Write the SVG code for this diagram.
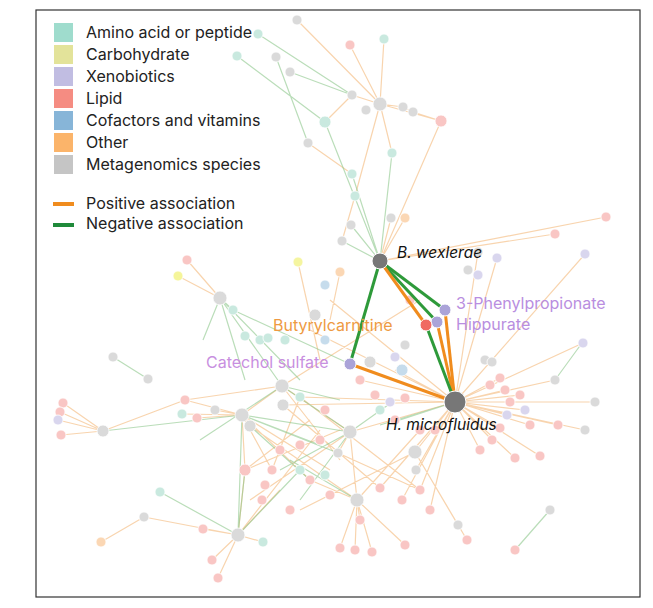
<svg xmlns="http://www.w3.org/2000/svg" width="653" height="608" viewBox="0 0 653 608">
<style>
text{font-family:"Inter","Liberation Sans",sans-serif}
.lg{font-size:16px;fill:#222}
.po{stroke:#f3b878;stroke-width:1.2;fill:none;opacity:.6}
.ng{stroke:#8cc78a;stroke-width:1.2;fill:none;opacity:.6}
.g circle{stroke:#fff;stroke-width:.8}
.gr{fill:#dadada}.pk{fill:#f9c6c4}.tl{fill:#c9e9df}.lv{fill:#d9d6ee}.or{fill:#fbd7b4}.bl{fill:#c6dcec}
</style>
<rect x="36" y="10" width="604" height="587" fill="#fff" stroke="#333" stroke-width="1.2"/>
<g id="connectors">
<path class="po" d="M380,104L297,20M380,104L350,45M380,104L384,39M380,104L352,95M380,104L403,107M403,107L413,112M413,112L441,121M380,104L441,121M380,104L392,153M352,95L325,122M380,104L355,196M352,174L308,143M355,196L342,241M380,261L405,218M380,261L391,218M441,121L380,261M380,261L606,217M380,261L555,234M455,402L478,252M455,402L497,258M455,402L585,254M298,262L320,360M340,272L330,320M220,298L187,260M220,298L178,276M455,402L555,380M455,402L583,343M455,402L595,402M455,402L558,425M455,402L585,430M455,402L540,456M455,402L515,458M455,402L500,378M455,402L505,390M455,402L510,402M455,402L507,415M455,402L500,428M455,402L492,440M455,402L480,450M455,402L520,395M455,402L525,410M455,402L530,425M455,402L350,432M455,402L415,452M455,402L416,470M455,402L300,397M455,402L283,405M455,402L380,488M455,402L420,490M455,402L402,500M455,402L430,510M455,402L360,380M455,402L395,370M242,415L185,400M242,415L182,414M242,415L197,418M242,415L215,410M242,415L282,386M242,415L245,470M242,415L272,470M242,415L310,480M242,415L250,426M103,431L63,403M103,431L60,412M103,431L58,420M103,431L61,435M103,431L185,400M350,432L338,453M350,432L357,500M357,500L340,548M357,500L355,550M357,500L372,552M357,500L405,545M357,500L360,520M238,535L203,529M238,535L212,560M238,535L218,578M238,535L263,542M238,535L245,470M415,452L458,525M415,452L467,540M282,386L350,432M282,386L340,460M310,480L357,500M245,470L340,430M272,470L300,397M250,426L357,500M283,405L380,488M300,397L420,490M185,400L282,386M338,453L420,490M245,470L310,420M350,432L250,500M238,535L320,430M144,517L238,535M101,542L144,517M238,535L280,490M455,402L330,300M455,402L310,330M282,386L420,300M242,415L330,470M357,500L420,430M415,452L300,510"/>
<path class="ng" d="M258,34L352,95M237,56L325,122M276,57L308,143M290,72L352,95M325,122L380,261M352,174L380,261M392,153L380,261M380,261L351,225M380,261L342,241M220,298L233,310M220,298L282,386M220,298L300,380M220,298L245,380M233,310L350,364M113,357L148,379M220,298L203,340M282,386L350,432M242,415L338,453M242,415L320,445M242,415L350,432M103,431L242,415M242,415L238,535M238,535L160,492M238,535L300,470M350,432L300,500M582,343L555,380M550,510L515,550M357,500L290,460M455,402L400,420M455,402L380,425M350,432L395,400M282,386L340,400M310,480L250,426M238,535L245,470M282,386L200,440M350,432L280,470"/>
</g>
<g id="bg-nodes" class="g">
<circle class="gr" cx="297" cy="20" r="5"/><circle class="pk" cx="350" cy="45" r="5"/><circle class="tl" cx="384" cy="39" r="5"/><circle class="tl" cx="258" cy="34" r="5"/><circle class="tl" cx="237" cy="56" r="5"/><circle class="gr" cx="276" cy="57" r="5"/><circle class="gr" cx="290" cy="72" r="5"/><circle class="gr" cx="352" cy="95" r="5"/><circle class="gr" cx="380" cy="104" r="7"/><circle class="gr" cx="366" cy="110" r="5"/><circle class="gr" cx="403" cy="107" r="5"/><circle class="gr" cx="413" cy="112" r="5"/><circle class="pk" cx="441" cy="121" r="6"/><circle class="tl" cx="325" cy="122" r="6"/><circle class="gr" cx="308" cy="143" r="5"/><circle class="tl" cx="392" cy="153" r="5"/><circle class="tl" cx="352" cy="174" r="5"/><circle class="tl" cx="355" cy="196" r="5"/><circle class="or" cx="405" cy="218" r="5"/><circle class="gr" cx="391" cy="218" r="5"/><circle class="gr" cx="351" cy="225" r="5"/><circle class="gr" cx="342" cy="241" r="5"/>
<circle class="pk" cx="606" cy="217" r="5"/><circle class="pk" cx="555" cy="234" r="5"/><circle class="lv" cx="585" cy="254" r="5"/><circle class="gr" cx="478" cy="252" r="5"/><circle class="lv" cx="497" cy="258" r="5"/>
<circle fill="#f5f59a" cx="178" cy="276" r="5"/><circle class="pk" cx="187" cy="260" r="5"/><circle class="gr" cx="220" cy="298" r="7"/><circle class="tl" cx="233" cy="310" r="5"/><circle fill="#f5f5a0" cx="298" cy="262" r="5"/><circle class="or" cx="340" cy="272" r="5"/><circle class="bl" cx="325" cy="285" r="5"/><circle class="gr" cx="113" cy="357" r="5"/><circle class="gr" cx="148" cy="379" r="5"/><circle class="gr" cx="103" cy="431" r="6"/><circle class="pk" cx="63" cy="403" r="5"/><circle class="pk" cx="60" cy="412" r="5"/><circle class="lv" cx="58" cy="420" r="5"/><circle class="pk" cx="61" cy="435" r="5"/><circle class="pk" cx="185" cy="400" r="5"/><circle class="tl" cx="182" cy="414" r="5"/><circle class="pk" cx="197" cy="418" r="5"/><circle class="gr" cx="215" cy="410" r="5"/>
<circle class="tl" cx="245" cy="336" r="5"/><circle class="tl" cx="260" cy="340" r="5"/><circle class="tl" cx="268" cy="338" r="5"/><circle class="tl" cx="285" cy="340" r="5"/><circle class="gr" cx="315" cy="315" r="6"/><circle class="bl" cx="325" cy="340" r="5"/><circle class="gr" cx="370" cy="362" r="6"/><circle class="bl" cx="402" cy="370" r="6"/><circle class="lv" cx="395" cy="357" r="5"/><circle class="gr" cx="405" cy="345" r="5"/><circle class="pk" cx="410" cy="300" r="5"/><circle class="gr" cx="468" cy="270" r="5"/><circle class="lv" cx="478" cy="275" r="5"/><circle class="gr" cx="485" cy="360" r="5"/><circle class="gr" cx="492" cy="362" r="5"/>
<circle class="gr" cx="282" cy="386" r="7"/><circle class="gr" cx="242" cy="415" r="7"/><circle class="gr" cx="250" cy="426" r="6"/><circle class="gr" cx="283" cy="405" r="6"/><circle class="tl" cx="300" cy="397" r="5"/><circle class="gr" cx="350" cy="432" r="7"/><circle class="gr" cx="338" cy="453" r="5"/><circle class="pk" cx="245" cy="470" r="6"/><circle class="pk" cx="272" cy="470" r="5"/><circle class="pk" cx="310" cy="480" r="5"/><circle class="gr" cx="357" cy="500" r="7"/><circle class="gr" cx="415" cy="452" r="7"/><circle class="gr" cx="416" cy="470" r="5"/><circle class="pk" cx="380" cy="488" r="5"/><circle class="pk" cx="420" cy="490" r="5"/><circle class="pk" cx="402" cy="500" r="5"/><circle class="pk" cx="430" cy="510" r="5"/><circle class="pk" cx="360" cy="380" r="5"/><circle class="pk" cx="375" cy="395" r="5"/><circle class="lv" cx="390" cy="402" r="5"/><circle class="tl" cx="380" cy="410" r="5"/><circle class="pk" cx="395" cy="420" r="5"/><circle class="pk" cx="405" cy="398" r="5"/><circle class="pk" cx="325" cy="410" r="5"/><circle class="pk" cx="320" cy="440" r="5"/><circle class="pk" cx="300" cy="445" r="5"/><circle class="tl" cx="325" cy="475" r="5"/><circle class="pk" cx="280" cy="450" r="5"/><circle class="pk" cx="262" cy="500" r="5"/><circle class="pk" cx="290" cy="510" r="5"/><circle class="pk" cx="435" cy="430" r="5"/><circle class="pk" cx="420" cy="430" r="5"/><circle class="pk" cx="265" cy="485" r="5"/><circle class="pk" cx="330" cy="495" r="5"/><circle class="tl" cx="300" cy="470" r="5"/>
<circle class="pk" cx="500" cy="378" r="5"/><circle class="pk" cx="505" cy="390" r="5"/><circle class="pk" cx="510" cy="402" r="5"/><circle class="lv" cx="507" cy="415" r="5"/><circle class="pk" cx="500" cy="428" r="5"/><circle class="pk" cx="492" cy="440" r="5"/><circle class="pk" cx="480" cy="450" r="5"/><circle class="pk" cx="520" cy="395" r="5"/><circle class="lv" cx="525" cy="410" r="5"/><circle class="pk" cx="530" cy="425" r="5"/><circle class="pk" cx="490" cy="385" r="5"/><circle class="gr" cx="555" cy="380" r="5"/><circle class="lv" cx="583" cy="343" r="5"/><circle class="gr" cx="595" cy="402" r="5"/><circle class="pk" cx="558" cy="425" r="5"/><circle class="gr" cx="585" cy="430" r="5"/><circle class="pk" cx="540" cy="456" r="5"/><circle class="pk" cx="515" cy="458" r="5"/><circle class="gr" cx="550" cy="510" r="5"/><circle class="pk" cx="515" cy="550" r="5"/>
<circle class="gr" cx="238" cy="535" r="7"/><circle class="pk" cx="203" cy="529" r="5"/><circle class="pk" cx="212" cy="560" r="5"/><circle class="pk" cx="218" cy="578" r="5"/><circle class="gr" cx="144" cy="517" r="5"/><circle class="tl" cx="160" cy="492" r="5"/><circle class="or" cx="101" cy="542" r="5"/><circle class="tl" cx="263" cy="542" r="5"/><circle class="pk" cx="340" cy="548" r="5"/><circle class="pk" cx="355" cy="550" r="5"/><circle class="pk" cx="372" cy="552" r="5"/><circle class="pk" cx="405" cy="545" r="5"/><circle class="pk" cx="360" cy="520" r="5"/><circle class="gr" cx="458" cy="525" r="5"/><circle class="pk" cx="467" cy="540" r="5"/>
</g>
<g id="connectors-main" stroke-width="3" fill="none">
<line x1="380" y1="261" x2="350" y2="364" stroke="#2e9a3a"/>
<line x1="380" y1="261" x2="445" y2="310" stroke="#2e9a3a"/>
<line x1="380" y1="261" x2="437" y2="322" stroke="#2e9a3a"/>
<line x1="380" y1="261" x2="426" y2="325" stroke="#f08c1e"/>
<line x1="445" y1="310" x2="455" y2="402" stroke="#f08c1e"/>
<line x1="437" y1="322" x2="455" y2="402" stroke="#f08c1e"/>
<line x1="426" y1="325" x2="455" y2="402" stroke="#2e9a3a"/>
<line x1="350" y1="364" x2="455" y2="402" stroke="#f08c1e"/>
</g>
<g id="node-bwexlerae"><circle cx="380" cy="261" r="8" fill="#777" stroke="#fff"/><text x="397" y="258" font-size="15.5" font-style="italic" fill="#111">B. wexlerae</text></g>
<g id="node-hmicrofluidus"><circle cx="455" cy="402" r="11" fill="#777" stroke="#fff"/><text x="386" y="430" font-size="15.5" font-style="italic" fill="#111">H. microfluidus</text></g>
<g id="node-3pp"><circle cx="445" cy="310" r="6" fill="#aaa3d8" stroke="#fff"/><text x="456" y="309" font-size="16" fill="#b98ee0">3-Phenylpropionate</text></g>
<g id="node-hippurate"><circle cx="437" cy="322" r="6" fill="#aaa3d8" stroke="#fff"/><text x="456" y="330" font-size="16" fill="#b98ee0">Hippurate</text></g>
<g id="node-butyrylcarnitine"><circle cx="426" cy="325" r="6" fill="#f06a62" stroke="#fff"/><text x="273" y="331" font-size="16" fill="#ee9a42">Butyrylcarnitine</text></g>
<g id="node-catechol"><circle cx="350" cy="364" r="6" fill="#aaa3d8" stroke="#fff"/><text x="206" y="368" font-size="16" fill="#c88fe0">Catechol sulfate</text></g>
<g id="legend">
<rect x="54" y="23" width="19" height="19" fill="#9fdccd"/><text class="lg" x="86" y="38">Amino acid or peptide</text>
<rect x="54" y="45" width="19" height="19" fill="#e3e39a"/><text class="lg" x="86" y="60">Carbohydrate</text>
<rect x="54" y="67" width="19" height="19" fill="#c1bde2"/><text class="lg" x="86" y="82">Xenobiotics</text>
<rect x="54" y="89" width="19" height="19" fill="#f58c82"/><text class="lg" x="86" y="104">Lipid</text>
<rect x="54" y="111" width="19" height="19" fill="#87b5d8"/><text class="lg" x="86" y="126">Cofactors and vitamins</text>
<rect x="54" y="133" width="19" height="19" fill="#fbb46a"/><text class="lg" x="86" y="148">Other</text>
<rect x="54" y="155" width="19" height="19" fill="#c5c5c5"/><text class="lg" x="86" y="170">Metagenomics species</text>
<rect x="53" y="202" width="21" height="4" fill="#f08c1e"/><text class="lg" x="86" y="209">Positive association</text>
<rect x="53" y="223" width="21" height="4" fill="#1f8a3a"/><text class="lg" x="86" y="229">Negative association</text>
</g>
</svg>
